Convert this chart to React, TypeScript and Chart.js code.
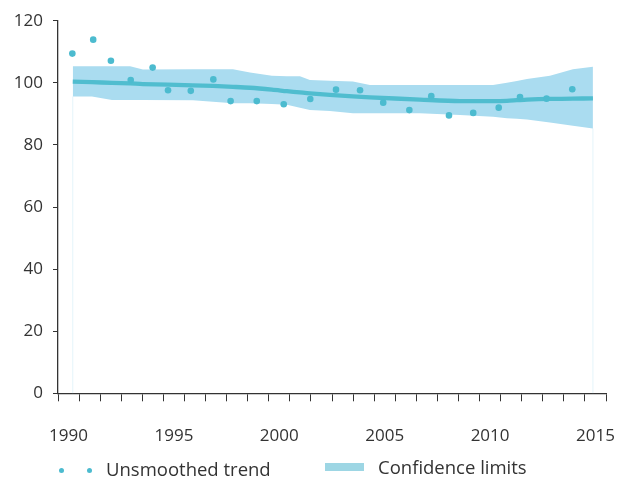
import React, { useEffect, useRef } from "react";
import { Chart, registerables } from "chart.js";

Chart.register(...registerables);

// Axis labels (categories shown on the x axis)
const yearLabels = [
  "1990", "1991", "1992", "1993", "1994", "1995", "1996", "1997", "1998", "1999",
  "2000", "2001", "2002", "2003", "2004", "2005", "2006", "2007", "2008", "2009",
  "2010", "2011", "2012", "2013", "2014", "2015",
];
const yTicks = [0, 20, 40, 60, 80, 100, 120];

// Unsmoothed trend (dots)
const dotYears = [
  1990.18, 1991.17, 1992.01, 1992.95, 1993.99, 1994.72, 1995.8, 1996.87, 1997.69,
  1998.93, 2000.21, 2001.47, 2002.69, 2003.83, 2004.93, 2006.17, 2007.21, 2008.05,
  2009.2, 2010.41, 2011.42, 2012.68, 2013.9,
];
const dotValues = [
  109.4, 113.9, 107.1, 100.9, 104.9, 97.6, 97.4, 101.1, 94.1,
  94.1, 93.1, 94.8, 97.8, 97.6, 93.6, 91.2, 95.7, 89.5,
  90.3, 92.0, 95.4, 94.9, 97.9,
];

// Smoothed trend and confidence limits
const trendYears = [
  1990.2, 1991.11, 1992.06, 1992.92, 1993.53, 1995.9, 1996.85, 1997.8, 1998.61,
  1999.65, 2000.36, 2000.98, 2001.45, 2002.4, 2003.49, 2004.3, 2006.67, 2008.57,
  2010.14, 2010.8, 2011.27, 2011.75, 2012.84, 2013.93, 2014.88,
];
const smoothed = [
  100.4, 100.2, 100.0, 99.8, 99.6, 99.2, 99.0, 98.7, 98.4,
  97.8, 97.3, 96.9, 96.6, 96.1, 95.6, 95.3, 94.6, 94.1,
  94.1, 94.2, 94.4, 94.6, 94.8, 94.9, 95.0,
];
const upperLimit = [
  105.3, 105.3, 105.3, 105.3, 104.3, 104.4, 104.4, 104.4, 103.3,
  102.3, 102.1, 102.1, 100.9, 100.7, 100.4, 99.3, 99.3, 99.3,
  99.3, 100.0, 100.6, 101.2, 102.3, 104.4, 105.2,
];
const lowerLimit = [
  95.6, 95.6, 94.5, 94.5, 94.5, 94.4, 93.9, 93.4, 93.4,
  93.2, 92.9, 92.0, 91.2, 90.9, 90.2, 90.2, 90.2, 89.6,
  89.1, 88.6, 88.4, 88.2, 87.2, 86.2, 85.3,
];

const DOT = "rgb(76,187,207)";
const LINE = "rgb(80,189,207)";
const BAND = "rgb(170,220,240)";
const LEGEND_BOX = "rgb(157,214,228)";
const EDGE = "rgb(228,244,250)";
const TEXT = "#333333";
const AXIS = "#333333";
const FONT = "'Open Sans', sans-serif";

export default function App() {
  const canvasRef = useRef<HTMLCanvasElement | null>(null);

  useEffect(() => {
    if (!canvasRef.current) return;
    const pts = (xs: number[], ys: number[]) => xs.map((x, i) => ({ x, y: ys[i] }));
    const first = 0;
    const last = trendYears.length - 1;
    const chart = new Chart(canvasRef.current, {
      type: "line",
      data: {
        datasets: [
          {
            label: "Unsmoothed trend",
            data: pts(dotYears, dotValues),
            xAxisID: "xData",
            showLine: false,
            pointRadius: 3.3,
            pointBackgroundColor: DOT,
            pointBorderWidth: 0,
            order: 0,
          },
          {
            label: "Smoothed",
            data: pts(trendYears, smoothed),
            xAxisID: "xData",
            borderColor: LINE,
            borderWidth: 4.3,
            pointRadius: 0,
            tension: 0.3,
            fill: false,
            order: 1,
          },
          {
            label: "Upper",
            data: pts(trendYears, upperLimit),
            xAxisID: "xData",
            borderWidth: 0,
            borderColor: "transparent",
            backgroundColor: BAND,
            pointRadius: 0,
            fill: "+1",
            order: 2,
          },
          {
            label: "Lower",
            data: pts(trendYears, lowerLimit),
            xAxisID: "xData",
            borderWidth: 0,
            borderColor: "transparent",
            pointRadius: 0,
            fill: false,
            order: 3,
          },
          {
            label: "EdgeL",
            data: [
              { x: trendYears[first], y: 0 },
              { x: trendYears[first], y: lowerLimit[first] },
            ],
            xAxisID: "xData",
            borderColor: EDGE,
            borderWidth: 1,
            pointRadius: 0,
            fill: false,
            order: 4,
          },
          {
            label: "EdgeR",
            data: [
              { x: trendYears[last], y: 0 },
              { x: trendYears[last], y: lowerLimit[last] },
            ],
            xAxisID: "xData",
            borderColor: EDGE,
            borderWidth: 1,
            pointRadius: 0,
            fill: false,
            order: 4,
          },
        ],
      },
      options: {
        animation: false,
        responsive: true,
        maintainAspectRatio: false,
        layout: { padding: { top: 12.7, right: 21, bottom: 0, left: 0 } },
        plugins: {
          legend: { display: false },
          tooltip: { enabled: false },
        },
        scales: {
          xData: {
            type: "linear",
            position: "bottom",
            display: false,
            min: 1989.5,
            max: 2015.5,
          },
          x: {
            type: "category",
            position: "bottom",
            labels: yearLabels,
            offset: true,
            grid: {
              offset: true,
              drawOnChartArea: false,
              drawTicks: true,
              tickLength: 8,
              color: AXIS,
              lineWidth: 1,
            },
            border: { display: true, color: AXIS, width: 1.3 },
            ticks: {
              autoSkip: false,
              maxRotation: 0,
              minRotation: 0,
              padding: 25,
              color: TEXT,
              font: { family: FONT, size: 17 },
              callback: (_v: any, i: number) =>
                Number(yearLabels[i]) % 5 === 0 ? yearLabels[i] : "",
            },
            afterFit: (s: any) => {
              s.height = 64.7;
              s.paddingLeft = 0;
              s.paddingRight = 0;
            },
          },
          y: {
            type: "linear",
            min: 0,
            max: 120,
            afterBuildTicks: (s: any) => {
              s.ticks = yTicks.map((v) => ({ value: v }));
            },
            grid: {
              drawOnChartArea: false,
              drawTicks: true,
              tickLength: 5,
              color: AXIS,
              lineWidth: 1,
            },
            border: { display: true, color: AXIS, width: 1.3 },
            ticks: {
              padding: 10,
              color: TEXT,
              font: { family: FONT, size: 17 },
            },
            afterFit: (s: any) => {
              s.width = 50;
              s.paddingTop = 0;
              s.paddingBottom = 0;
            },
          },
        },
      },
    });
    return () => chart.destroy();
  }, []);

  return (
    <div style={{ position: "relative", width: 619, height: 473 }}>
      <div style={{ position: "absolute", left: 0, top: 0, width: 619, height: 450 }}>
        <canvas ref={canvasRef} />
      </div>
      <span
        style={{
          position: "absolute",
          left: 51.2,
          top: 459.5,
          width: 5,
          height: 5,
          borderRadius: "50%",
          background: DOT,
        }}
      />
      <span
        style={{
          position: "absolute",
          left: 78.8,
          top: 459.5,
          width: 5,
          height: 5,
          borderRadius: "50%",
          background: DOT,
        }}
      />
      <span
        style={{
          position: "absolute",
          left: 98,
          top: 449,
          fontFamily: FONT,
          fontSize: 18.5,
          lineHeight: "24px",
          color: TEXT,
          whiteSpace: "nowrap",
        }}
      >
        Unsmoothed trend
      </span>
      <span
        style={{
          position: "absolute",
          left: 317,
          top: 455.3,
          width: 39,
          height: 8,
          background: LEGEND_BOX,
        }}
      />
      <span
        style={{
          position: "absolute",
          left: 370,
          top: 447,
          fontFamily: FONT,
          fontSize: 18.5,
          lineHeight: "24px",
          color: TEXT,
          whiteSpace: "nowrap",
        }}
      >
        Confidence limits
      </span>
    </div>
  );
}
